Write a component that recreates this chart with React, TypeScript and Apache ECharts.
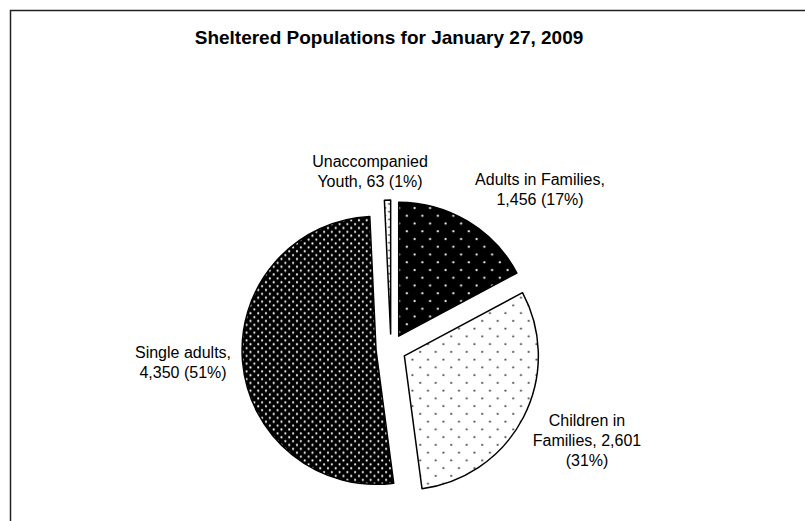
import React, { useEffect, useRef } from 'react';
import * as echarts from 'echarts';

const chartTitle = 'Sheltered Populations for January 27, 2009';
const categories = ['Adults in Families', 'Children in Families', 'Single adults', 'Unaccompanied Youth'];
const values = [1456, 2601, 4350, 63];
// word index after which each label wraps onto a new line
const labelBreaks = [[2], [1, 3], [1], [0]];

// label anchor points (layout, not data)
const labelAnchors: [number, number][] = [
  [540, 189],
  [587, 440],
  [183, 362],
  [370, 171],
];

function makeDots(bg: string, dot: string, half: number, r: number) {
  const size = 62;
  const c = document.createElement('canvas');
  c.width = size;
  c.height = size;
  const ctx = c.getContext('2d')!;
  ctx.fillStyle = bg;
  ctx.fillRect(0, 0, size, size);
  ctx.fillStyle = dot;
  const n = Math.round(size / half);
  for (let i = 0; i < n; i++) {
    for (let j = 0; j < n; j++) {
      if ((i + j) % 2 !== 0) continue;
      ctx.beginPath();
      ctx.arc(i * half + half / 2, j * half + half / 2, r, 0, Math.PI * 2);
      ctx.fill();
    }
  }
  return { image: c, repeat: 'repeat', imageWidth: size, imageHeight: size } as any;
}

export default function App() {
  const ref = useRef<HTMLDivElement>(null);
  useEffect(() => {
    if (!ref.current) return;
    const chart = echarts.init(ref.current, undefined, { renderer: 'svg' });
    const fills = [
      makeDots('#000000', '#ffffff', 7.75, 1.1),
      makeDots('#ffffff', '#333333', 7.75, 1.0),
      makeDots('#000000', '#ffffff', 3.875, 1.1),
      makeDots('#ffffff', '#333333', 3.875, 0.9),
    ];
    const fmt = (v: number) => v.toLocaleString('en-US');
    const sliceData = categories.map((name, i) => {
      const style = { color: fills[i], borderColor: '#000', borderWidth: 1.5 };
      return {
        name,
        value: values[i],
        selected: true,
        itemStyle: style,
        select: { itemStyle: style },
        emphasis: { itemStyle: style },
      };
    });
    const labelData = categories.map((name, i) => ({ name, value: values[i] }));
    const common = {
      type: 'pie',
      center: [391, 349],
      radius: 134,
      startAngle: 90,
      clockwise: true,
      avoidLabelOverlap: false,
      emphasis: { disabled: true },
      labelLine: { show: false },
    };
    chart.setOption({
      animation: false,
      backgroundColor: '#ffffff',
      title: {
        text: chartTitle,
        left: 389,
        top: 28,
        padding: 0,
        textAlign: 'center',
        textStyle: {
          fontFamily: 'Liberation Sans, Arial, sans-serif',
          fontSize: 19,
          fontWeight: 'bold',
          color: '#000',
        },
      },
      graphic: [
        {
          type: 'rect',
          shape: { x: 10.5, y: 10.5, width: 830, height: 540 },
          style: { fill: 'none', stroke: '#222', lineWidth: 1.5 },
          silent: true,
        },
      ],
      series: [
        {
          ...common,
          name: 'slices',
          selectedMode: 'multiple',
          selectedOffset: 15,
          label: { show: false },
          data: sliceData,
        },
        {
          ...common,
          name: 'labels',
          silent: true,
          selectedMode: false,
          itemStyle: { color: 'rgba(0,0,0,0)', borderWidth: 0 },
          label: {
            show: true,
            position: 'outside',
            fontFamily: 'Liberation Sans, Arial, sans-serif',
            fontSize: 16,
            lineHeight: 20,
            color: '#000',
            align: 'center',
            formatter: (p: any) => {
              const words = `${p.name}, ${fmt(p.value)} (${Math.round(p.percent)}%)`.split(' ');
              const br = labelBreaks[p.dataIndex];
              let out = '';
              words.forEach((w, k) => {
                out += w;
                if (k < words.length - 1) out += br.includes(k) ? '\n' : ' ';
              });
              return out;
            },
          },
          labelLayout: (p: any) => ({
            x: labelAnchors[p.dataIndex][0],
            y: labelAnchors[p.dataIndex][1],
            align: 'center',
            verticalAlign: 'middle',
          }),
          data: labelData,
        },
      ],
    });
    return () => chart.dispose();
  }, []);
  return (
    <div
      ref={ref}
      style={{ position: 'fixed', left: 0, top: 0, width: 805, height: 521, background: '#fff' }}
    />
  );
}
